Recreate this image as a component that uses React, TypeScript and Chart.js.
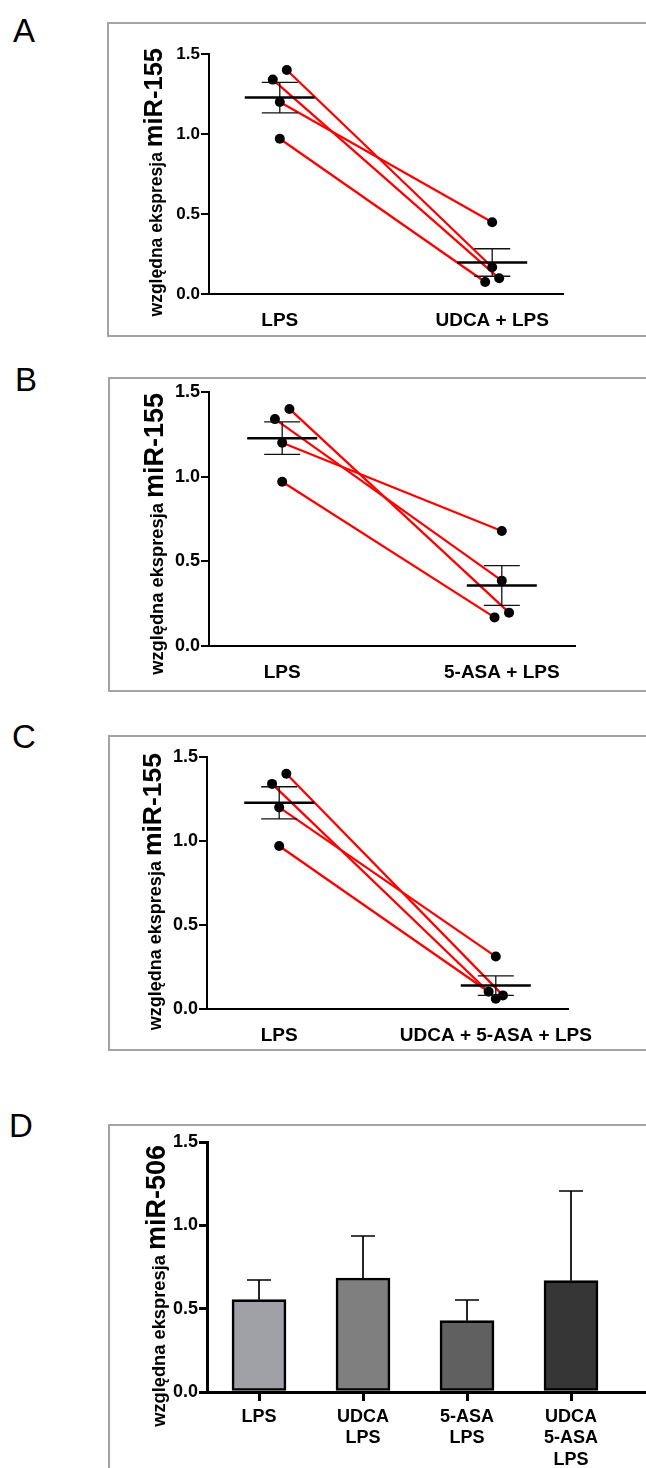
import React, { useEffect, useRef } from 'react';
import { Chart, registerables } from 'chart.js';

Chart.register(...registerables);

// ---------------- data ----------------
const CATEGORIES_A = ['LPS', 'UDCA + LPS'];
const CATEGORIES_B = ['LPS', '5-ASA + LPS'];
const CATEGORIES_C = ['LPS', 'UDCA + 5-ASA + LPS'];

const LPS_VALUES = [1.4, 1.34, 1.2, 0.97];
const UDCA_LPS_VALUES = [0.167, 0.098, 0.448, 0.075];
const ASA_LPS_VALUES = [0.197, 0.386, 0.679, 0.169];
const UDCA_ASA_LPS_VALUES = [0.081, 0.061, 0.312, 0.103];

const BAR_CATEGORIES = [['LPS'], ['UDCA', 'LPS'], ['5-ASA', 'LPS'], ['UDCA', '5-ASA', 'LPS']];
const MIR506_MEANS = [0.554, 0.684, 0.428, 0.668];
const MIR506_SEM = [0.118, 0.252, 0.124, 0.538];

const Y_TICKS = [0, 0.5, 1.0, 1.5];
const Y_TITLE_SMALL = 'względna ekspresja ';
const Y_TITLE_155 = 'miR-155';
const Y_TITLE_506 = 'miR-506';
const PANEL_LETTERS = ['A', 'B', 'C', 'D'];

// ---------------- styles / layout ----------------
const FONT = '"Liberation Sans", Arial, Helvetica, sans-serif';
const BAR_COLORS = ['#a0a0a7', '#7f7f7f', '#606060', '#363636'];
const JITTER_LPS = [0.033, -0.033, 0, 0];
const JITTER_A = [0, 0.033, 0, -0.033];
const JITTER_B = [0.033, 0, 0, -0.033];
const JITTER_C = [0.033, 0, 0, -0.033];

type Rect = { l: number; t: number; r: number; b: number };

function meanSem(v: number[]) {
  const n = v.length;
  const m = v.reduce((a, b) => a + b, 0) / n;
  const sd = Math.sqrt(v.reduce((a, b) => a + (b - m) * (b - m), 0) / (n - 1));
  return { m, sem: sd / Math.sqrt(n) };
}

function yTitlePlugin(big: string, offsetX: number, offsetY: number, smallPx: number, bigPx: number) {
  return {
    id: 'yTitle',
    afterDraw(chart: any) {
      const { ctx, chartArea } = chart;
      ctx.save();
      ctx.translate(chartArea.left - offsetX, chartArea.top + offsetY);
      ctx.rotate(-Math.PI / 2);
      ctx.fillStyle = '#000';
      ctx.textBaseline = 'alphabetic';
      ctx.textAlign = 'left';
      const smallFont = `bold ${smallPx}px ${FONT}`;
      const bigFont = `bold ${bigPx}px ${FONT}`;
      ctx.font = smallFont;
      const w1 = ctx.measureText(Y_TITLE_SMALL).width;
      ctx.font = bigFont;
      const w2 = ctx.measureText(big).width;
      const start = -(w1 + w2);
      ctx.font = smallFont;
      ctx.fillText(Y_TITLE_SMALL, start, 0);
      ctx.font = bigFont;
      ctx.fillText(big, start + w1, 0);
      ctx.restore();
    },
  };
}

function meanSemPlugin(groups: number[][]) {
  return {
    id: 'meanSem',
    afterDatasetsDraw(chart: any) {
      const { ctx, scales } = chart;
      const x = scales.x;
      const y = scales.y;
      ctx.save();
      groups.forEach((vals, gi) => {
        const { m, sem } = meanSem(vals);
        const px = x.getPixelForValue(gi);
        const ym = y.getPixelForValue(m);
        const yt = y.getPixelForValue(m + sem);
        const yb = y.getPixelForValue(m - sem);
        ctx.strokeStyle = '#111';
        ctx.lineWidth = 1.3;
        ctx.beginPath();
        ctx.moveTo(px, yt);
        ctx.lineTo(px, yb);
        ctx.moveTo(px - 18, yt);
        ctx.lineTo(px + 18, yt);
        ctx.moveTo(px - 18, yb);
        ctx.lineTo(px + 18, yb);
        ctx.stroke();
        ctx.strokeStyle = '#000';
        ctx.lineWidth = 2.5;
        ctx.beginPath();
        ctx.moveTo(px - 35, ym);
        ctx.lineTo(px + 35, ym);
        ctx.stroke();
      });
      ctx.restore();
    },
  };
}

function barErrorPlugin(means: number[], sems: number[]) {
  return {
    id: 'barError',
    afterDatasetsDraw(chart: any) {
      const { ctx, scales } = chart;
      const x = scales.x;
      const y = scales.y;
      ctx.save();
      ctx.strokeStyle = '#000';
      ctx.lineWidth = 1.7;
      means.forEach((m, i) => {
        const px = x.getPixelForValue(i);
        const y0 = y.getPixelForValue(m);
        const y1 = y.getPixelForValue(m + sems[i]);
        ctx.beginPath();
        ctx.moveTo(px, y0);
        ctx.lineTo(px, y1);
        ctx.moveTo(px - 12, y1);
        ctx.lineTo(px + 12, y1);
        ctx.stroke();
      });
      ctx.restore();
    },
  };
}

function yScale(yWidth: number, axisW: number, tickFont: number) {
  return {
    type: 'linear',
    min: 0,
    max: 1.5,
    afterBuildTicks: (s: any) => {
      s.ticks = Y_TICKS.map((v) => ({ value: v }));
    },
    afterFit: (s: any) => {
      s.width = yWidth;
    },
    ticks: {
      callback: (v: number) => v.toFixed(1),
      color: '#000',
      font: { family: FONT, weight: 'bold', size: tickFont },
      padding: 1,
    },
    grid: {
      display: true,
      drawOnChartArea: false,
      drawTicks: true,
      tickLength: 8,
      color: '#000',
      lineWidth: axisW,
    },
    border: { display: true, color: '#000', width: axisW },
  };
}

function pairConfig(
  cats: string[],
  before: number[],
  after: number[],
  jAfter: number[],
  canvas: Rect,
  area: Rect,
  titleOffX: number,
  titleOffY: number,
  smallPx: number,
  bigPx: number,
  tickFont: number,
) {
  const dots = [
    ...before.map((y, i) => ({ x: JITTER_LPS[i], y })),
    ...after.map((y, i) => ({ x: 1 + jAfter[i], y })),
  ];
  const pairSets = before.map((y, i) => ({
    type: 'scatter',
    data: [
      { x: JITTER_LPS[i], y },
      { x: 1 + jAfter[i], y: after[i] },
    ],
    showLine: true,
    borderColor: '#ff0000',
    borderWidth: 2.3,
    pointRadius: 0,
    pointHoverRadius: 0,
    order: 1,
  }));
  return {
    type: 'scatter',
    data: {
      datasets: [
        {
          type: 'scatter',
          data: dots,
          backgroundColor: '#000',
          borderColor: '#000',
          pointRadius: 5,
          pointBorderWidth: 0,
          order: 0,
        },
        ...pairSets,
      ],
    },
    options: {
      animation: false,
      responsive: false,
      maintainAspectRatio: false,
      layout: {
        padding: { left: 0, top: area.t - canvas.t, right: canvas.r - area.r, bottom: 0 },
      },
      plugins: { legend: { display: false }, tooltip: { enabled: false } },
      scales: {
        x: {
          type: 'linear',
          min: -1 / 3,
          max: 4 / 3,
          offset: false,
          afterBuildTicks: (s: any) => {
            s.ticks = cats.map((_, i) => ({ value: i }));
          },
          afterFit: (s: any) => {
            s.height = canvas.b - area.b;
          },
          ticks: {
            callback: (v: number) => cats[v] ?? '',
            autoSkip: false,
            maxRotation: 0,
            minRotation: 0,
            color: '#000',
            font: { family: FONT, weight: 'bold', size: 19 },
            padding: 15,
          },
          grid: { display: false, drawTicks: false },
          border: { display: true, color: '#000', width: 2 },
        },
        y: yScale(area.l - canvas.l, 2, tickFont),
      },
    },
    plugins: [
      meanSemPlugin([before, after]),
      yTitlePlugin(Y_TITLE_155, titleOffX, titleOffY, smallPx, bigPx),
    ],
  };
}

function barConfig(canvas: Rect, area: Rect) {
  const unitPx = 104;
  const xMin = -0.5;
  const xMax = xMin + (area.r - area.l) / unitPx;
  return {
    type: 'bar',
    data: {
      datasets: [
        {
          data: MIR506_MEANS.map((y, i) => ({ x: i, y })),
          backgroundColor: BAR_COLORS,
          borderColor: '#000',
          borderWidth: 2.6,
          borderSkipped: false,
          barThickness: 54,
        },
      ],
    },
    options: {
      animation: false,
      responsive: false,
      maintainAspectRatio: false,
      layout: {
        padding: { left: 0, top: area.t - canvas.t, right: canvas.r - area.r, bottom: 0 },
      },
      plugins: { legend: { display: false }, tooltip: { enabled: false } },
      scales: {
        x: {
          type: 'linear',
          min: xMin,
          max: xMax,
          offset: false,
          afterBuildTicks: (s: any) => {
            s.ticks = BAR_CATEGORIES.map((_, i) => ({ value: i }));
          },
          afterFit: (s: any) => {
            s.height = canvas.b - area.b;
          },
          ticks: {
            callback: (v: number) => BAR_CATEGORIES[v] ?? '',
            autoSkip: false,
            maxRotation: 0,
            minRotation: 0,
            color: '#000',
            font: { family: FONT, weight: 'bold', size: 18, lineHeight: 1.2 },
            padding: 5,
          },
          grid: {
            display: true,
            offset: false,
            drawOnChartArea: false,
            drawTicks: true,
            tickLength: 9,
            color: '#000',
            lineWidth: 3,
          },
          border: { display: true, color: '#000', width: 3 },
        },
        y: yScale(area.l - canvas.l, 3, 18),
      },
    },
    plugins: [
      barErrorPlugin(MIR506_MEANS, MIR506_SEM),
      yTitlePlugin(Y_TITLE_506, 42, 3, 18.3, 27),
    ],
  };
}

function ChartCanvas({ rect, make }: { rect: Rect; make: () => any }) {
  const ref = useRef<HTMLCanvasElement | null>(null);
  useEffect(() => {
    if (!ref.current) return;
    const chart = new Chart(ref.current, make());
    return () => chart.destroy();
  }, []);
  const w = rect.r - rect.l;
  const h = rect.b - rect.t;
  return (
    <canvas
      ref={ref}
      width={w}
      height={h}
      style={{ position: 'absolute', left: rect.l, top: rect.t, width: w, height: h }}
    />
  );
}

const BOXES = [
  { l: 107, t: 22, h: 315 },
  { l: 108, t: 377, h: 315 },
  { l: 108, t: 735, h: 316 },
  { l: 108, t: 1124, h: 400 },
];
const LETTER_POS = [
  { l: 13, t: 14 },
  { l: 15, t: 363 },
  { l: 12, t: 720 },
  { l: 9, t: 1109 },
];

const CANVAS_A: Rect = { l: 110, t: 25, r: 646, b: 335 };
const AREA_A: Rect = { l: 209, t: 54, r: 563, b: 294 };
const CANVAS_B: Rect = { l: 110, t: 380, r: 646, b: 690 };
const AREA_B: Rect = { l: 209, t: 392, r: 575, b: 646 };
const CANVAS_C: Rect = { l: 110, t: 738, r: 646, b: 1049 };
const AREA_C: Rect = { l: 207, t: 757, r: 568, b: 1009 };
const CANVAS_D: Rect = { l: 110, t: 1127, r: 700, b: 1468 };
const AREA_D: Rect = { l: 207, t: 1142, r: 700, b: 1392 };

export default function App() {
  return (
    <div
      style={{
        position: 'fixed',
        left: 0,
        top: 0,
        width: 646,
        height: 1468,
        overflow: 'hidden',
        background: '#fff',
      }}
    >
      {BOXES.map((b, i) => (
        <div
          key={'box' + i}
          style={{
            position: 'absolute',
            left: b.l,
            top: b.t,
            width: 700,
            height: b.h,
            boxSizing: 'border-box',
            border: '2px solid #a3a3a3',
          }}
        />
      ))}
      {PANEL_LETTERS.map((ch, i) => (
        <div
          key={'lt' + i}
          style={{
            position: 'absolute',
            left: LETTER_POS[i].l,
            top: LETTER_POS[i].t,
            fontFamily: FONT,
            fontSize: 33,
            lineHeight: '33px',
            color: '#000',
          }}
        >
          {ch}
        </div>
      ))}
      <ChartCanvas
        rect={CANVAS_A}
        make={() =>
          pairConfig(CATEGORIES_A, LPS_VALUES, UDCA_LPS_VALUES, JITTER_A, CANVAS_A, AREA_A, 47, -6, 17.5, 25.5, 17)
        }
      />
      <ChartCanvas
        rect={CANVAS_B}
        make={() =>
          pairConfig(CATEGORIES_B, LPS_VALUES, ASA_LPS_VALUES, JITTER_B, CANVAS_B, AREA_B, 46, 1, 18.3, 27, 18)
        }
      />
      <ChartCanvas
        rect={CANVAS_C}
        make={() =>
          pairConfig(CATEGORIES_C, LPS_VALUES, UDCA_ASA_LPS_VALUES, JITTER_C, CANVAS_C, AREA_C, 46, -4, 18, 26.5, 18)
        }
      />
      <ChartCanvas rect={CANVAS_D} make={() => barConfig(CANVAS_D, AREA_D)} />
    </div>
  );
}
